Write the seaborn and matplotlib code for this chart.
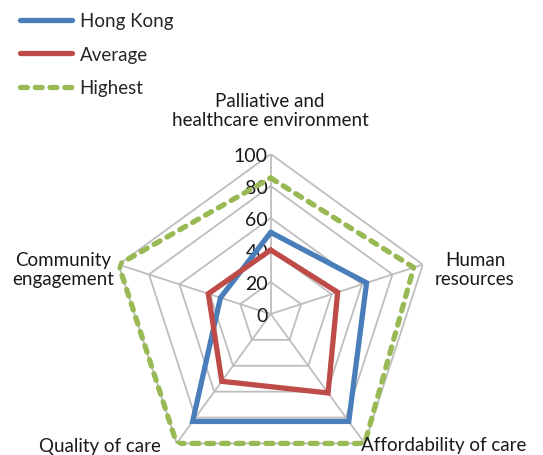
import numpy as np
import pandas as pd
import matplotlib
matplotlib.use("Agg")
import matplotlib.pyplot as plt
import seaborn as sns

# categories clockwise from the top
categories = ["Palliative and\nhealthcare environment", "Human\nresources",
              "Affordability of care", "Quality of care", "Community\nengagement"]
hong_kong = [51, 63, 83, 83, 33]
average = [40, 44, 61, 52, 41]
highest = [85, 94, 100, 100, 100]
ticks = [0, 20, 40, 60, 80, 100]

sns.set_theme(style="white")
plt.rcParams["font.family"] = ["Lato", "DejaVu Sans"]

W, H = 543, 456
fig = plt.figure(figsize=(W / 100, H / 100), dpi=100)
cx, cy, R = 270.7, 315, 160
ax = fig.add_axes([(cx - R) / W, (H - cy - R) / H, 2 * R / W, 2 * R / H], projection="polar")
ax.set_theta_offset(np.pi / 2)
ax.set_theta_direction(-1)
ax.set_ylim(0, 100)
ax.axis("off")

n = len(categories)
theta = np.linspace(0, 2 * np.pi, n, endpoint=False)
theta_c = np.append(theta, theta[0])

grid_col = "#BEBEBE"
for t in ticks[1:]:
    ax.plot(theta_c, [t] * (n + 1), color=grid_col, lw=1.3, zorder=1)
for th in theta:
    ax.plot([th, th], [0, 100], color=grid_col, lw=1.3, zorder=1)
for t in ticks:
    ax.annotate(str(t), (0, t), xytext=(-2, -1), textcoords="offset points",
                ha="right", va="center", fontsize=14, color="#1a1a1a")

series = [("Hong Kong", hong_kong, "#4A7EBB", "-"),
          ("Average", average, "#BE4B48", "-"),
          ("Highest", highest, "#98B954", (0, (1.3, 1.5)))]
handles = []
for name, vals, col, ls in series:
    df = pd.DataFrame({"theta": theta_c, "value": vals + vals[:1]})
    sns.lineplot(data=df, x="theta", y="value", ax=ax, sort=False, estimator=None,
                 color=col, lw=3.8, linestyle=ls, dash_capstyle="round",
                 solid_joinstyle="miter", zorder=3)
    handles.append(plt.Line2D([], [], color=col, lw=3.8, linestyle=ls,
                              dash_capstyle="round", solid_capstyle="round", label=name))
ax.set_xlabel("")
ax.set_ylabel("")

# category labels, pixel positions
label_pos = [(270, 111, "center"), (475, 270, "center"), (361, 446, "left"),
             (100, 447, "center"), (63, 270, "center")]
for lab, (x, y, ha) in zip(categories, label_pos):
    fig.text(x / W, 1 - y / H, lab, ha=ha, va="center", fontsize=13.5,
             color="#1a1a1a", linespacing=1.2, multialignment="center")

fig.legend(handles=handles, loc="upper left", bbox_to_anchor=(0.012, 1.0),
           frameon=False, fontsize=13.5, handlelength=2.8, handletextpad=0.4,
           labelspacing=0.88, borderaxespad=0.4, borderpad=0.3)

fig.savefig("out.png", dpi=100)
